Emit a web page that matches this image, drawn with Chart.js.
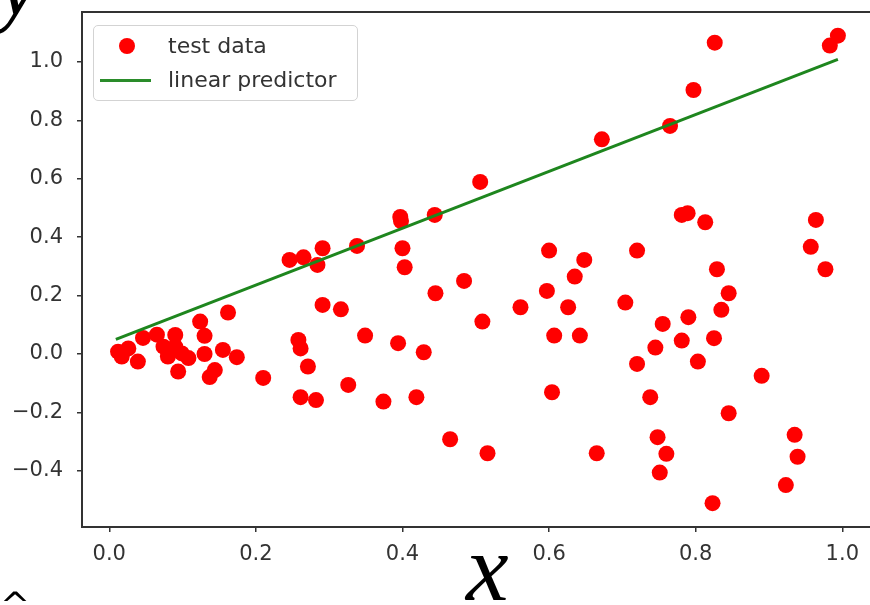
<!DOCTYPE html>
<html>
<head>
<meta charset="utf-8">
<script src="https://cdn.jsdelivr.net/npm/chart.js@4.4.1/dist/chart.umd.min.js"></script>
<style>
  html, body { margin: 0; padding: 0; background: #fff; }
  #wrap { position: relative; width: 870px; height: 605px; overflow: hidden; }
  #c { position: absolute; left: 0; top: 0; }
  .math { position: absolute; font-family: "Liberation Serif", "DejaVu Serif", serif; font-style: italic; color: #000; line-height: 1; white-space: nowrap; }
  #legend { position: absolute; left: 93px; top: 25px; width: 265px; height: 76px; box-sizing: border-box;
            border: 1.5px solid #d3d3d3; border-radius: 5px; background: rgba(255,255,255,0.85);
            font-family: "DejaVu Sans", sans-serif; font-size: 22px; color: #333; }
  .lg-text { position: absolute; left: 74px; line-height: 1; white-space: nowrap; }
  .lg-dot { position: absolute; width: 16px; height: 16px; border-radius: 50%; background: #ff0000; }
  .lg-line { position: absolute; height: 3px; background: #2a8c2a; }
</style>
</head>
<body>
<div id="wrap">
  <canvas id="c" width="870" height="605"></canvas>
  <div class="math" id="ylab" style="left:-2px; top:-62px; font-size:92px;">y</div>
  <div class="math" id="xlab" style="left:466px; top:520px; font-size:96px;">x</div>
  <div class="math" id="hat" style="left:0px; top:587px; font-size:36px; font-style:normal; font-family:'DejaVu Sans', sans-serif;">^</div>
  <div id="legend">
    <div class="lg-dot" style="left:25px; top:12px;"></div>
    <div class="lg-text" style="top:9px;">test data</div>
    <div class="lg-line" style="left:6px; width:51px; top:53px;"></div>
    <div class="lg-text" style="top:43px;">linear predictor</div>
  </div>
</div>
<script>
// ---- data ----
const testX = [
  0.012, 0.026, 0.039, 0.046, 0.065, 0.074, 0.090, 0.090, 0.080, 0.099,
  0.094, 0.108, 0.124, 0.130, 0.130, 0.155, 0.174, 0.162, 0.144, 0.137,
  0.017, 0.210,
  0.246, 0.265, 0.291, 0.284, 0.338, 0.400, 0.403, 0.397, 0.398, 0.444,
  0.506, 0.291, 0.316, 0.445, 0.484, 0.509, 0.258, 0.261, 0.271, 0.349,
  0.394, 0.429, 0.326, 0.261, 0.282, 0.374, 0.419, 0.465, 0.516,
  0.600, 0.648, 0.635, 0.720, 0.597, 0.561, 0.626, 0.704, 0.607, 0.642,
  0.755, 0.745, 0.720, 0.604, 0.738, 0.665, 0.748, 0.760, 0.751,
  0.994, 0.983, 0.826, 0.797, 0.765, 0.672, 0.781, 0.789, 0.813, 0.964,
  0.957, 0.977, 0.829, 0.845, 0.835, 0.790, 0.781, 0.825, 0.803, 0.890,
  0.845, 0.935, 0.939, 0.923, 0.823
];
const testY = [
  0.008, 0.019, -0.026, 0.055, 0.066, 0.025, 0.065, 0.025, -0.009, 0.002,
  -0.060, -0.014, 0.111, 0.062, 0.000, 0.014, -0.011, 0.142, -0.055, -0.079,
  -0.009, -0.082,
  0.322, 0.331, 0.362, 0.305, 0.370, 0.362, 0.297, 0.469, 0.455, 0.476,
  0.589, 0.168, 0.153, 0.208, 0.250, 0.111, 0.048, 0.019, -0.043, 0.063,
  0.037, 0.006, -0.106, -0.148, -0.158, -0.163, -0.148, -0.292, -0.340,
  0.354, 0.322, 0.265, 0.354, 0.216, 0.160, 0.160, 0.176, 0.063, 0.063,
  0.103, 0.022, -0.034, -0.131, -0.148, -0.340, -0.285, -0.342, -0.406,
  1.090, 1.056, 1.066, 0.904, 0.781, 0.735, 0.476, 0.482, 0.451, 0.459,
  0.367, 0.290, 0.290, 0.208, 0.151, 0.126, 0.046, 0.054, -0.026, -0.075,
  -0.203, -0.277, -0.352, -0.449, -0.511
];
const lineX = [0.009, 0.994];
const lineY = [0.050, 1.009];
const xTicks = [0.0, 0.2, 0.4, 0.6, 0.8, 1.0];
const yTicks = [-0.4, -0.2, 0.0, 0.2, 0.4, 0.6, 0.8, 1.0];
const xRange = [-0.0372, 1.0378];
const yRange = [-0.5925, 1.171];

const fmt = v => (v < 0 ? '\u2212' : '') + Math.abs(v).toFixed(1);
const tickFont = { family: 'DejaVu Sans', size: 21 };

const framePlugin = {
  id: 'frame',
  afterDatasetsDraw(chart) {
    const a = chart.chartArea, ctx = chart.ctx;
    ctx.save();
    ctx.strokeStyle = '#333';
    ctx.lineWidth = 2;
    ctx.beginPath();
    ctx.moveTo(a.right + 2, a.top);
    ctx.lineTo(a.left, a.top);
    ctx.lineTo(a.left, a.bottom);
    ctx.lineTo(a.right + 2, a.bottom);
    ctx.stroke();
    ctx.restore();
  }
};

new Chart(document.getElementById('c'), {
  type: 'scatter',
  data: {
    datasets: [
      {
        type: 'line',
        label: 'linear predictor',
        data: lineX.map((x, i) => ({ x, y: lineY[i] })),
        borderColor: '#1e861e',
        borderWidth: 3,
        pointRadius: 0,
        fill: false,
        order: 0
      },
      {
        type: 'scatter',
        label: 'test data',
        data: testX.map((x, i) => ({ x, y: testY[i] })),
        backgroundColor: '#ff0000',
        borderWidth: 0,
        pointRadius: 8,
        order: 1
      }
    ]
  },
  options: {
    responsive: false,
    animation: false,
    devicePixelRatio: 1,
    layout: { autoPadding: false, padding: { top: 12, right: 0, left: 0, bottom: 0 } },
    plugins: { legend: { display: false }, tooltip: { enabled: false } },
    scales: {
      x: {
        type: 'linear',
        min: xRange[0], max: xRange[1],
        afterBuildTicks: s => { s.ticks = xTicks.map(v => ({ value: v })); },
        afterFit: s => { s.height = 78; s.paddingLeft = 0; s.paddingRight = 0; },
        ticks: { callback: v => fmt(v), font: tickFont, color: '#333', padding: 10, maxRotation: 0, autoSkip: false },
        grid: { drawOnChartArea: false, drawTicks: true, tickLength: 5, color: '#333', lineWidth: 1.5 },
        border: { display: false }
      },
      y: {
        type: 'linear',
        min: yRange[0], max: yRange[1],
        afterBuildTicks: s => { s.ticks = yTicks.map(v => ({ value: v })); },
        afterFit: s => { s.width = 82; s.paddingTop = 0; s.paddingBottom = 0; },
        ticks: { callback: v => fmt(v), font: tickFont, color: '#333', padding: 14, autoSkip: false },
        grid: { drawOnChartArea: false, drawTicks: true, tickLength: 5, color: '#333', lineWidth: 1.5 },
        border: { display: false }
      }
    }
  },
  plugins: [framePlugin]
});
</script>
</body>
</html>
